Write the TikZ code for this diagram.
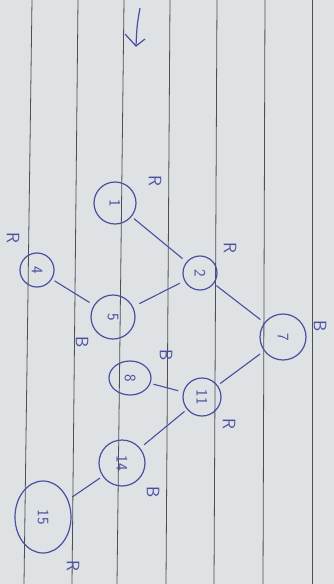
\documentclass[tikz,border=0pt]{standalone}
\usepackage{graphicx}
\usetikzlibrary{shapes.geometric}
\definecolor{paper}{HTML}{DEE2E5}
\definecolor{ink}{HTML}{4A4F9E}
\definecolor{rulec}{HTML}{505054}
\begin{document}
\begin{tikzpicture}[x=1pt,y=-1pt,
  tn/.style={draw=ink, line width=1.2pt, circle, inner sep=0pt, text=ink, font=\sffamily\fontsize{16}{16}\selectfont},
  te/.style={draw=ink, line width=1.2pt, ellipse, inner sep=0pt, text=ink, font=\sffamily\fontsize{16}{16}\selectfont},
  lab/.style={text=ink, font=\sffamily\fontsize{18}{18}\selectfont, rotate=-90, inner sep=0pt},
  edge/.style={draw=ink, line width=1.1pt, shorten <=3pt, shorten >=5pt},
  paperline/.style={draw=rulec, line width=0.8pt}]
\useasboundingbox (0,0) rectangle (334,584);
\fill[paper] (0,0) rectangle (334,584);
% ruled lines
\draw[paperline] (32,0) -- (24,584);
\draw[paperline] (78,0) -- (72,584);
\draw[paperline] (124,0) -- (117,584);
\draw[paperline] (170,0) -- (166,584);
\draw[paperline] (217,0) -- (214,584);
\draw[paperline] (265,0) -- (263,584);
\draw[paperline] (312,0) -- (312,584);
% arrow mark
\draw[ink, line width=1.2pt] (140,8) .. controls (137,25) .. (136,46);
\draw[ink, line width=1.2pt] (125,34) -- (136,46) -- (145,39);
% nodes
\node[tn, minimum size=42] (n1) at (115,203) {\rotatebox{-90}{1}};
\node[tn, minimum size=34] (n2) at (200,273) {\rotatebox{-90}{2}};
\node[tn, minimum size=34] (n4) at (37,270) {\rotatebox{-90}{4}};
\node[tn, minimum size=44] (n5) at (113,317) {\rotatebox{-90}{5}};
\node[tn, minimum size=46] (n7) at (283,337) {\rotatebox{-90}{7}};
\node[te, minimum width=42, minimum height=34] (n8) at (130,378) {\rotatebox{-90}{8}};
\node[tn, minimum size=38] (n11) at (202,397) {\rotatebox{-90}{11}};
\node[tn, minimum size=46] (n14) at (122,463) {\rotatebox{-90}{14}};
\node[te, minimum width=56, minimum height=72] (n15) at (43,517) {\rotatebox{-90}{15}};
% colour labels
\node[lab] (l1) at (155,181) {R};
\node[lab] (l2) at (230,248) {R};
\node[lab] (l4) at (13,238) {R};
\node[lab] (l5) at (82,342) {B};
\node[lab] (l7) at (320,326) {B};
\node[lab] (l8) at (166,355) {B};
\node[lab] (l11) at (229,424) {R};
\node[lab] (l14) at (153,492) {B};
\node[lab] (l15) at (73,566) {R};
% edges
\draw[edge] (n1) -- (n2);
\draw[edge] (n2) -- (n7);
\draw[edge, shorten <=7pt] (n5) -- (n2);
\draw[edge] (n4) -- (n5);
\draw[edge] (n8) -- (n11);
\draw[edge] (n11) -- (n7);
\draw[edge] (n11) -- (n14);
\draw[edge] (n14) -- (n15);
\end{tikzpicture}
\end{document}
